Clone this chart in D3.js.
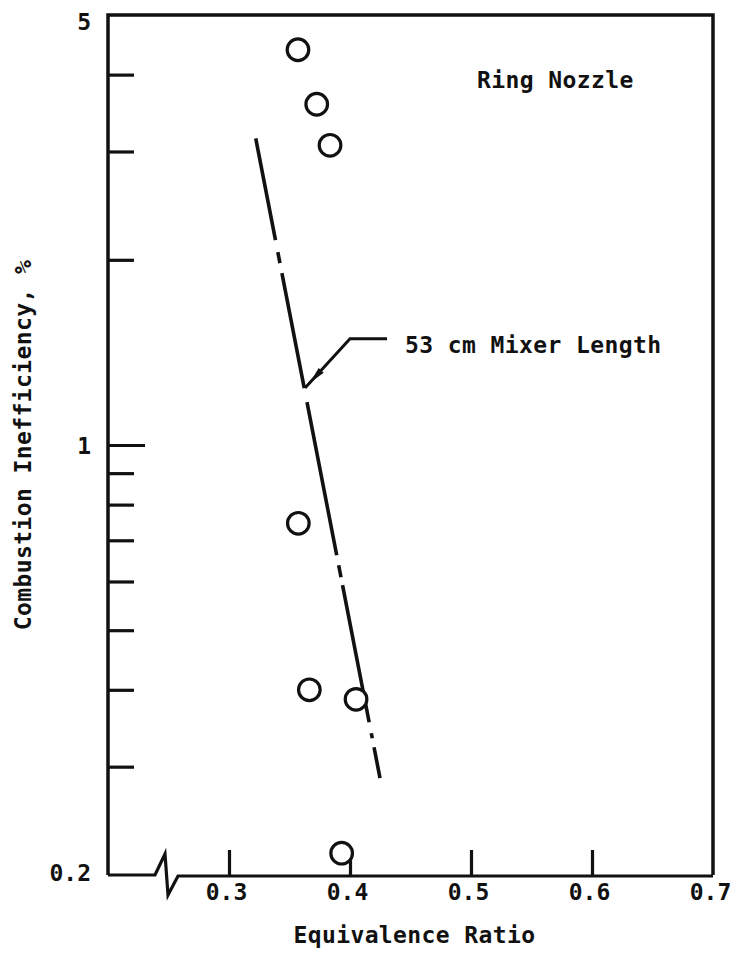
<!DOCTYPE html>
<html>
<head>
<meta charset="utf-8">
<script src="https://cdn.jsdelivr.net/npm/d3@7"></script>
<style>
  html, body { margin: 0; padding: 0; background: #fff; }
  svg { display: block; }
  text { font-family: "DejaVu Sans Mono", monospace; font-weight: bold; fill: #111; }
</style>
</head>
<body>
<svg id="chart" width="734" height="955"></svg>
<script>
// ---- data ----
const pointX = [0.357, 0.3725, 0.3835, 0.3573, 0.3664, 0.405, 0.3931];
const pointY = [4.39, 3.58, 3.07, 0.746, 0.40, 0.386, 0.217];
const fitX = [0.3221, 0.4248];
const fitY = [3.15, 0.2875];
const leaderX = [0.3628, 0.4, 0.4306];
const leaderY = [1.2376, 1.488, 1.488];
const xTickValues = [0.3, 0.4, 0.5, 0.6, 0.7];
const xTickLabels = ["0.3", "0.4", "0.5", "0.6", "0.7"];
const yLabelValues = [0.2, 1, 5];
const yTickLabels = ["0.2", "1", "5"];
const yMinorTicks = [0.3, 0.4, 0.5, 0.6, 0.7, 0.8, 0.9, 2, 3, 4];
const yMajorTicks = [1];
const xTitle = "Equivalence Ratio";
const yTitle = "Combustion Inefficiency, %";
const seriesLabel = "Ring Nozzle";
const lineLabel = "53 cm Mixer Length";

// ---- layout ----
const L = 108, R = 713, T = 15, B = 875;
const svg = d3.select("#chart");
const x = d3.scaleLinear().domain([0.2, 0.7]).range([L, R]);
const y = d3.scaleLog().domain([0.2, 5]).range([B, T]);
const ink = "#111";
const fs = 23;
const ls = 0.4;

// frame: left, top, right
svg.append("path")
  .attr("d", `M${L},${B} V${T} H${R} V${B}`)
  .attr("fill", "none").attr("stroke", ink).attr("stroke-width", 3.5);

// bottom axis with break mark
svg.append("path")
  .attr("d", `M${L},${B} H155 L165,854 L168,895 L178,${B+1} H${R}`)
  .attr("fill", "none").attr("stroke", ink).attr("stroke-width", 3.2)
  .attr("stroke-linejoin", "miter");

// y minor ticks (inside)
const gyMinor = svg.append("g").attr("transform", `translate(${L},0)`)
  .call(d3.axisRight(y).tickValues(yMinorTicks).tickSize(26).tickFormat(""));
gyMinor.select(".domain").remove();
gyMinor.selectAll(".tick line").attr("stroke", ink).attr("stroke-width", 3.2);

const gyMajor = svg.append("g").attr("transform", `translate(${L},0)`)
  .call(d3.axisRight(y).tickValues(yMajorTicks).tickSize(37).tickFormat(""));
gyMajor.select(".domain").remove();
gyMajor.selectAll(".tick line").attr("stroke", ink).attr("stroke-width", 3.2);

// y labels (outside)
const gyLab = svg.append("g").attr("transform", `translate(${L},0)`)
  .call(d3.axisLeft(y).tickValues(yLabelValues).tickSize(0).tickPadding(17)
    .tickFormat((d, i) => yTickLabels[i]));
gyLab.select(".domain").remove();
gyLab.selectAll("text").attr("font-size", fs).attr("font-family", "DejaVu Sans Mono")
  .attr("font-weight", "bold").attr("fill", ink)
  .attr("dy", d => d === 5 ? "0.62em" : d === 1 ? "0.38em" : "0.22em");

// x ticks (upward, inside) with labels below
const gx = svg.append("g").attr("transform", `translate(0,${B})`)
  .call(d3.axisBottom(x).tickValues(xTickValues).tickSizeInner(-25).tickSizeOuter(0)
    .tickPadding(9).tickFormat((d, i) => xTickLabels[i]));
gx.select(".domain").remove();
gx.selectAll(".tick line").attr("stroke", ink).attr("stroke-width", 3.2)
  .attr("display", d => d >= 0.7 ? "none" : null);
gx.selectAll("text").attr("font-size", fs).attr("font-family", "DejaVu Sans Mono")
  .attr("font-weight", "bold").attr("fill", ink).attr("dx", -3);

// axis titles
svg.append("text").attr("x", (L + R) / 2 + 4).attr("y", 943)
  .attr("text-anchor", "middle").attr("font-size", fs).attr("letter-spacing", ls)
  .text(xTitle);
svg.append("text").attr("transform", `translate(31,${(T + B) / 2}) rotate(-90)`)
  .attr("text-anchor", "middle").attr("font-size", fs).attr("letter-spacing", ls)
  .text(yTitle);

// fitted chain line
const dashes = [103.6, 12.2, 11.2, 10.2, 117.2, 14.3, 155.9, 10.2, 12.2, 8.1, 139.6, 11.2, 5.1, 9.2, 31.6];
const fitData = fitX.map((d, i) => [d, fitY[i]]);
svg.append("path")
  .attr("d", d3.line().x(d => x(d[0])).y(d => y(d[1]))(fitData))
  .attr("fill", "none").attr("stroke", ink).attr("stroke-width", 3.6)
  .attr("stroke-dasharray", dashes.join(","));

// leader line with arrowhead
const leadData = leaderX.map((d, i) => [x(d), y(leaderY[i])]);
svg.append("path")
  .attr("d", d3.line()(leadData))
  .attr("fill", "none").attr("stroke", ink).attr("stroke-width", 3)
  .attr("stroke-linejoin", "miter");
{
  const [tx, ty] = leadData[0], [ex, ey] = leadData[1];
  const len = Math.hypot(ex - tx, ey - ty);
  const ux = (ex - tx) / len, uy = (ey - ty) / len;
  const px = -uy, py = ux;
  const a = 7, b = 24, w = 3.4;
  const pts = [
    [tx + ux * a, ty + uy * a],
    [tx + ux * b + px * w, ty + uy * b + py * w],
    [tx + ux * b - px * w, ty + uy * b - py * w]
  ];
  svg.append("polygon").attr("points", pts.map(p => p.join(",")).join(" ")).attr("fill", ink);
}
svg.append("text").attr("x", 405).attr("y", 353).attr("font-size", fs)
  .attr("letter-spacing", ls).text(lineLabel);

// series label
svg.append("text").attr("x", 477).attr("y", 88).attr("font-size", fs)
  .attr("letter-spacing", ls).text(seriesLabel);

// data points: open circles
svg.append("g").selectAll("circle")
  .data(pointX.map((d, i) => [d, pointY[i]]))
  .join("circle")
  .attr("cx", d => x(d[0])).attr("cy", d => y(d[1])).attr("r", 10.8)
  .attr("fill", "#fff").attr("stroke", ink).attr("stroke-width", 3.2);
</script>
</body>
</html>
